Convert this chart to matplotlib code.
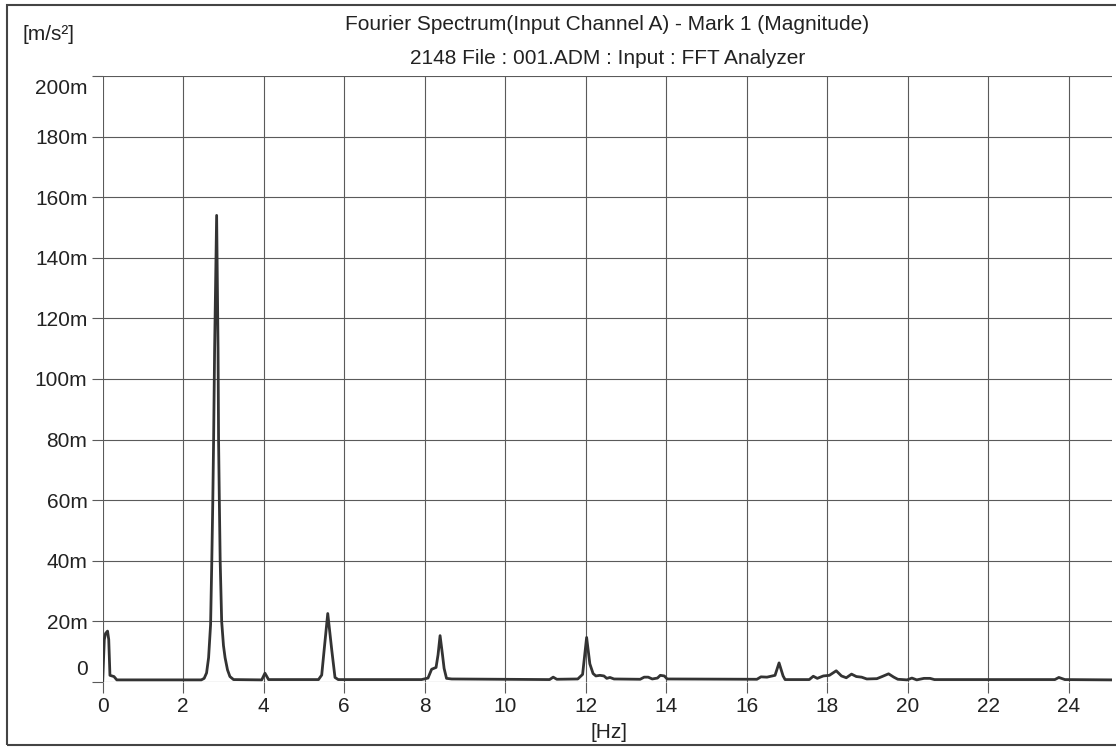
import numpy as np
import matplotlib
matplotlib.use("Agg")
import matplotlib.pyplot as plt
from matplotlib.patches import Rectangle
import matplotlib.transforms as mtransforms

plt.rcParams['font.family'] = ['Liberation Sans', 'DejaVu Sans']

# spectrum: frequency [Hz] and magnitude [milli m/s^2]
freq = [0.00, 0.04, 0.07, 0.12, 0.15, 0.18, 0.28, 0.35,
        2.45, 2.52, 2.58, 2.63, 2.68, 2.71, 2.735, 2.755, 2.78, 2.83,
        2.865, 2.878, 2.897, 2.918, 2.955, 3.00, 3.04, 3.10, 3.16, 3.25,
        3.95, 4.03, 4.12,
        5.36, 5.44, 5.50, 5.59, 5.69, 5.77, 5.85,
        7.92, 8.08, 8.17, 8.28, 8.33, 8.38, 8.44, 8.48, 8.54, 8.67,
        11.10, 11.19, 11.28,
        11.80, 11.92, 12.02, 12.10, 12.18, 12.25, 12.35, 12.45, 12.52, 12.60, 12.70,
        13.35, 13.45, 13.55, 13.65, 13.78, 13.85, 13.95, 14.02,
        16.25, 16.35, 16.50, 16.60, 16.70, 16.80, 16.90, 16.95,
        17.55, 17.65, 17.75, 17.90, 18.05, 18.22, 18.35, 18.47, 18.60, 18.72,
        18.85, 18.98, 19.23, 19.36, 19.52, 19.65, 19.75, 19.98, 20.10, 20.22,
        20.40, 20.55, 20.66,
        23.65, 23.75, 23.90, 25.10]
mag = [0.5, 14.0, 16.0, 16.8, 14.0, 2.2, 1.8, 0.7,
       0.7, 1.2, 3.0, 8.0, 19.0, 40.0, 60.0, 80.0, 110.0, 154.0,
       110.0, 80.0, 60.0, 40.0, 20.0, 12.0, 8.0, 4.0, 1.8, 0.8,
       0.7, 2.9, 0.8,
       0.8, 2.3, 10.5, 22.6, 10.5, 1.5, 0.8,
       0.8, 1.3, 4.2, 4.8, 9.0, 15.3, 9.0, 4.5, 1.2, 1.0,
       0.8, 1.6, 0.9,
       1.0, 2.5, 14.7, 6.0, 2.8, 2.0, 2.2, 2.0, 1.2, 1.5, 1.0,
       0.9, 1.6, 1.6, 1.0, 1.3, 2.2, 2.0, 1.0,
       0.9, 1.7, 1.6, 1.9, 2.2, 6.3, 2.0, 0.8,
       0.8, 1.9, 1.2, 2.0, 2.2, 3.7, 2.0, 1.4, 2.6, 1.8,
       1.6, 1.0, 1.1, 1.8, 2.7, 1.6, 0.9, 0.7, 1.3, 0.7,
       1.2, 1.2, 0.8,
       0.8, 1.5, 0.8, 0.7]

x_ticks = list(range(0, 25, 2))
y_ticks = list(range(0, 201, 20))
y_labels = ["0"] + [f"{v}m" for v in y_ticks[1:]]

title1 = "Fourier Spectrum(Input Channel A) - Mark 1 (Magnitude)"
title2 = "2148 File : 001.ADM : Input : FFT Analyzer"

W, H = 1116, 748
fig = plt.figure(figsize=(W / 100, H / 100), dpi=100)
ax = fig.add_axes([102.7 / W, 1 - 682 / H, (1112 - 102.7) / W, (682 - 76) / H])

grid_c = '#5a5a5a'
ax.plot(freq, mag, color='#333333', lw=2.0, solid_joinstyle='round', zorder=3)

ax.set_xlim(0, 25.07)
ax.set_ylim(0, 200)
ax.set_xticks(x_ticks)
ax.set_yticks(y_ticks)
ax.set_yticklabels(y_labels)
ax.grid(True, color=grid_c, lw=0.8)
for s in ax.spines.values():
    s.set_visible(False)
ax.tick_params(axis='both', length=8, width=0.8, color=grid_c,
               labelsize=15, labelcolor='#222222', pad=3)

# end labels on the y axis sit inside the plot range
lbls = ax.get_yticklabels()
lbls[-1].set_verticalalignment('top')
lbls[-1].set_transform(lbls[-1].get_transform() +
                       mtransforms.ScaledTranslation(0, -2 / 72, fig.dpi_scale_trans))
lbls[0].set_verticalalignment('bottom')
lbls[0].set_transform(lbls[0].get_transform() +
                      mtransforms.ScaledTranslation(0, 2 / 72, fig.dpi_scale_trans))

cx = (102.7 + 1112) / 2 / W
fig.text(cx, 1 - 25 / H, title1, ha='center', va='center', fontsize=15, color='#222222')
fig.text(cx, 1 - 58 / H, title2, ha='center', va='center', fontsize=15, color='#222222')
fig.text(22 / W, 1 - 34 / H, "[m/s²]", ha='left', va='center', fontsize=15, color='#222222')
fig.text(609 / W, 1 - 732 / H, "[Hz]", ha='center', va='center', fontsize=15, color='#222222')

# outer frame of the printout
fig.patches.append(Rectangle((7 / W, 3 / H), 1.2, (745 - 5) / H, transform=fig.transFigure,
                             fill=False, edgecolor='#444444', lw=1.5))

fig.savefig("out.png", dpi=100, facecolor='white')
